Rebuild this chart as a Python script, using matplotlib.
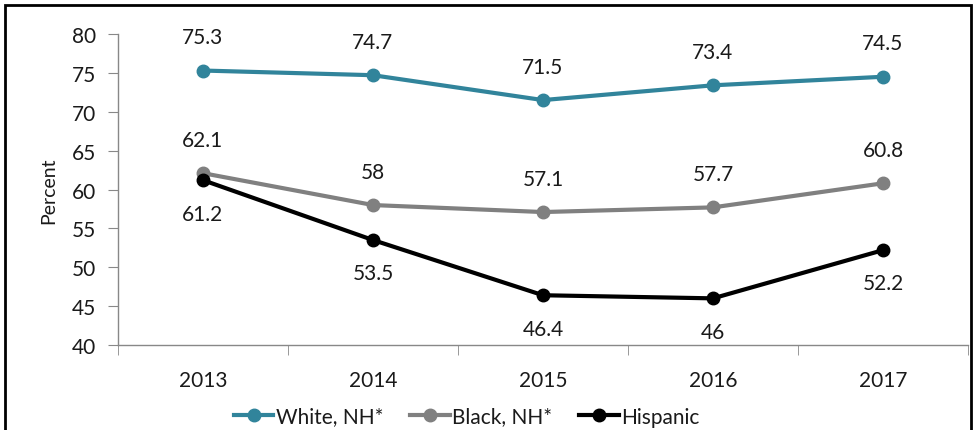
import matplotlib.pyplot as plt
from matplotlib.patches import Rectangle

years = ['2013', '2014', '2015', '2016', '2017']
white = [75.3, 74.7, 71.5, 73.4, 74.5]
black = [62.1, 58, 57.1, 57.7, 60.8]
hispanic = [61.2, 53.5, 46.4, 46, 52.2]

plt.rcParams['font.family'] = ['Lato', 'DejaVu Sans']

fig = plt.figure(figsize=(9.76, 4.31), dpi=100)
ax = fig.add_axes([0.1209, 0.1972, 0.8709, 0.7216])

# outer chart border, bottom edge falls off the image
fig.patches.append(Rectangle((0.005, -0.05), 0.99, 1.036, transform=fig.transFigure,
                             fill=False, edgecolor='black', linewidth=2))

x = list(range(len(years)))
series = [
    (white, '#31849B', 'White, NH*', 'above'),
    (black, '#808080', 'Black, NH*', 'above'),
    (hispanic, '#000000', 'Hispanic', 'below'),
]
for vals, col, name, pos in series:
    ax.plot(x, vals, color=col, lw=3, marker='o', ms=9, label=name)
    for xi, v in zip(x, vals):
        off = 24 if pos == 'above' else -24
        ax.annotate(f'{v:g}', (xi, v), xytext=(0, off), textcoords='offset points',
                    ha='center', va='center', fontsize=15, color='#1a1a1a')

ax.set_xlim(-0.5, 4.5)
ax.set_ylim(40, 80)
ax.set_yticks(range(40, 81, 5))
ax.set_xticks(x)
ax.set_xticklabels(years)
ax.set_xticks([i - 0.5 for i in range(6)], minor=True)
ax.tick_params(axis='x', which='major', length=0, pad=18, labelsize=15, labelcolor='#1a1a1a')
ax.tick_params(axis='x', which='minor', length=7, color='#888888', direction='out')
ax.tick_params(axis='y', length=7, color='#888888', labelsize=15, pad=9, labelcolor='#1a1a1a')

for s in ['top', 'right']:
    ax.spines[s].set_visible(False)
for s in ['left', 'bottom']:
    ax.spines[s].set_color('#888888')
    ax.spines[s].set_linewidth(1)

ax.set_ylabel('Percent', fontsize=14, labelpad=10, color='#1a1a1a')

ax.legend(loc='center', bbox_to_anchor=(0.41, -0.23), ncol=3, frameon=False,
          fontsize=15, handlelength=1.9, handletextpad=0.1, columnspacing=1.3,
          labelcolor='#1a1a1a', borderpad=0)

fig.savefig('out.png', dpi=100)
